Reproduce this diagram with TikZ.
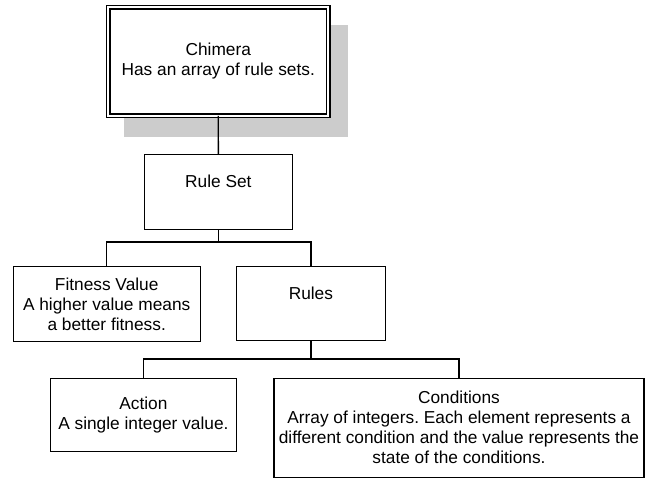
\documentclass[tikz,border=0pt]{standalone}
\usepackage{fontspec}
\setmainfont{Liberation Sans}
\frenchspacing
\begin{document}
\begin{tikzpicture}[x=1pt,y=-1pt,
  box/.style={draw=black,line width=1.1pt,fill=white,inner sep=0pt,outer sep=0pt,align=center,font=\fontsize{17.3}{20}\selectfont},
  txt/.style={inner sep=0pt,outer sep=0pt,align=center,font=\fontsize{17.3}{20}\selectfont},
  conn/.style={draw=black,line width=1.3pt}]
\useasboundingbox (0,0) rectangle (647,480);
% shadow of the top box
\fill[black!20] (124,25) rectangle (348,137);
% boxes
\node[box, double, double distance=2.3pt, line width=1.2pt,
      minimum width=220pt, minimum height=108.5pt] (chim) at (218.25,61.5)
      {Chimera\\Has an array of rule sets.};
\node[box, minimum width=148.5pt, minimum height=74.3pt] (rs) at (218.4,191.9) {};
\node[txt] (rstxt) at (218.4,181.7) {Rule Set};
\node[box, minimum width=186.7pt, minimum height=74.3pt] (fit) at (106.7,303.9)
      {Fitness Value\\A higher value means\\a better fitness.};
\node[box, minimum width=148.3pt, minimum height=74pt] (rules) at (310.9,303.7) {};
\node[txt] (rulestxt) at (310.9,293) {Rules};
\node[box, minimum width=185.3pt, minimum height=73.4pt] (act) at (143.4,415)
      {Action\\A single integer value.};
\node[box, minimum width=370pt, minimum height=98.7pt] (cond) at (459,427.7)
      {Conditions\\Array of integers. Each element represents a\\different condition and the value represents the\\state of the conditions.};
% connectors
\draw[conn] (chim.south) -- (rs.north);
\coordinate (j1) at (218.4,242);
\draw[conn] (rs.south) -- (j1);
\draw[conn] (fit.north) |- (j1) -| (rules.north);
\coordinate (j2) at (310.9,359);
\draw[conn] (rules.south) -- (j2);
\draw[conn] (act.north) |- (j2) -| (cond.north);
\end{tikzpicture}
\end{document}
